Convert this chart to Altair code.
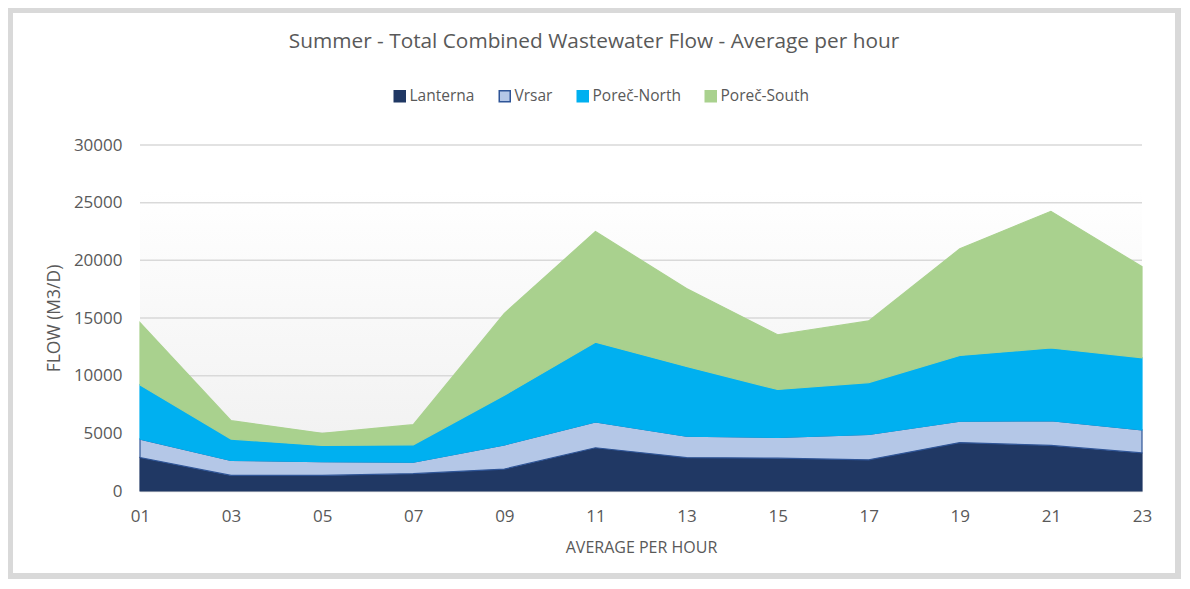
import altair as alt
import pandas as pd

# ---- data ----
hours = [1, 3, 5, 7, 9, 11, 13, 15, 17, 19, 21, 23]
series_names = ["Lanterna", "Vrsar", "Poreč-North", "Poreč-South"]
lanterna = [2900, 1350, 1350, 1500, 1900, 3750, 2900, 2850, 2700, 4200, 3950, 3300]
vrsar = [1600, 1300, 1200, 1000, 2100, 2250, 1850, 1800, 2200, 1850, 2150, 2000]
porec_north = [4700, 1850, 1400, 1500, 4300, 6900, 6050, 4150, 4500, 5700, 6300, 6250]
porec_south = [5400, 1600, 1050, 1750, 7100, 9600, 6750, 4750, 5350, 9250, 11850, 7900]
y_ticks = [0, 5000, 10000, 15000, 20000, 25000, 30000]

fill_colors = ["#203864", "#b4c7e7", "#00b0f0", "#a9d18e"]
stroke_colors = ["#203864", "#2f5597", "#00b0f0", "#a9d18e"]

rows = []
for k, (name, vals) in enumerate(zip(series_names, [lanterna, vrsar, porec_north, porec_south])):
    for h, v in zip(hours, vals):
        rows.append({"hour": h, "flow": v, "series": name, "order": k})
df = pd.DataFrame(rows)

W, H = 1002, 346
TXT = "#595959"

y_scale = alt.Scale(domain=[0, 30000], nice=False, zero=True)
y_axis = alt.Axis(
    values=y_ticks, format="d", grid=False, domain=False, ticks=False,
    labelFontSize=17, labelColor=TXT, labelPadding=18,
    title="FLOW (M3/D)", titleFontSize=17.5, titleFontWeight="normal",
    titleColor=TXT, titlePadding=10,
)
x_scale = alt.Scale(domain=[1, 23], nice=False, zero=False)
x_axis = alt.Axis(
    values=hours, labelExpr="(datum.value < 10 ? '0' : '') + datum.value",
    labelFlush=False,
    grid=False, ticks=False, domainColor="#d9d9d9", domainWidth=1.5,
    labelFontSize=17, labelColor=TXT, labelPadding=17,
    title="AVERAGE PER HOUR", titleFontSize=16, titleFontWeight="normal",
    titleColor=TXT, titlePadding=15,
)

legend = alt.Legend(
    title=None, orient="none", direction="horizontal",
    legendX=252, legendY=-57, symbolType="square", symbolSize=121,
    symbolStrokeWidth=1.5, labelFontSize=15.5, labelColor=TXT,
    labelOffset=2, columnPadding=21,
)

frame = alt.Chart(pd.DataFrame({"k": [0]})).mark_rect(
    fillOpacity=0, stroke="#d9d9d9", strokeWidth=6
).encode(
    x=alt.value(-130), x2=alt.value(1038), y=alt.value(-135), y2=alt.value(431)
)

backdrop = alt.Chart(pd.DataFrame({"k": [0]})).mark_rect(
    color=alt.Gradient(
        gradient="linear",
        stops=[alt.GradientStop(color="#ffffff", offset=0),
               alt.GradientStop(color="#efefef", offset=1)],
        x1=0, x2=0, y1=0, y2=1,
    )
).encode(x=alt.value(0), x2=alt.value(W), y=alt.value(45), y2=alt.value(H))

grid = alt.Chart(pd.DataFrame({"flow": y_ticks})).mark_rule(
    color="#d9d9d9", strokeWidth=1.5
).encode(y=alt.Y("flow:Q", scale=y_scale, axis=y_axis))

areas = alt.Chart(df).mark_area(strokeWidth=1.2, interpolate="linear").encode(
    x=alt.X("hour:Q", scale=x_scale, axis=x_axis),
    y=alt.Y("flow:Q", stack="zero", scale=y_scale, axis=y_axis),
    color=alt.Color("series:N", scale=alt.Scale(domain=series_names, range=fill_colors), legend=legend),
    stroke=alt.Stroke("series:N", scale=alt.Scale(domain=series_names, range=stroke_colors), legend=legend),
    order=alt.Order("order:Q"),
)

chart = alt.layer(frame, backdrop, grid, areas).properties(
    width=W, height=H,
    autosize=alt.AutoSizeParams(type="none"),
    padding={"left": 132, "top": 137, "right": 40, "bottom": 88},
    title=alt.TitleParams(
        text="Summer - Total Combined Wastewater Flow - Average per hour",
        fontSize=20.8, fontWeight="normal", color=TXT, anchor="middle",
        dx=-47, offset=-46,
    ),
).configure(font="Open Sans").configure_view(stroke="transparent")

chart.save("out.html", embed_options={"renderer": "svg", "actions": False})
